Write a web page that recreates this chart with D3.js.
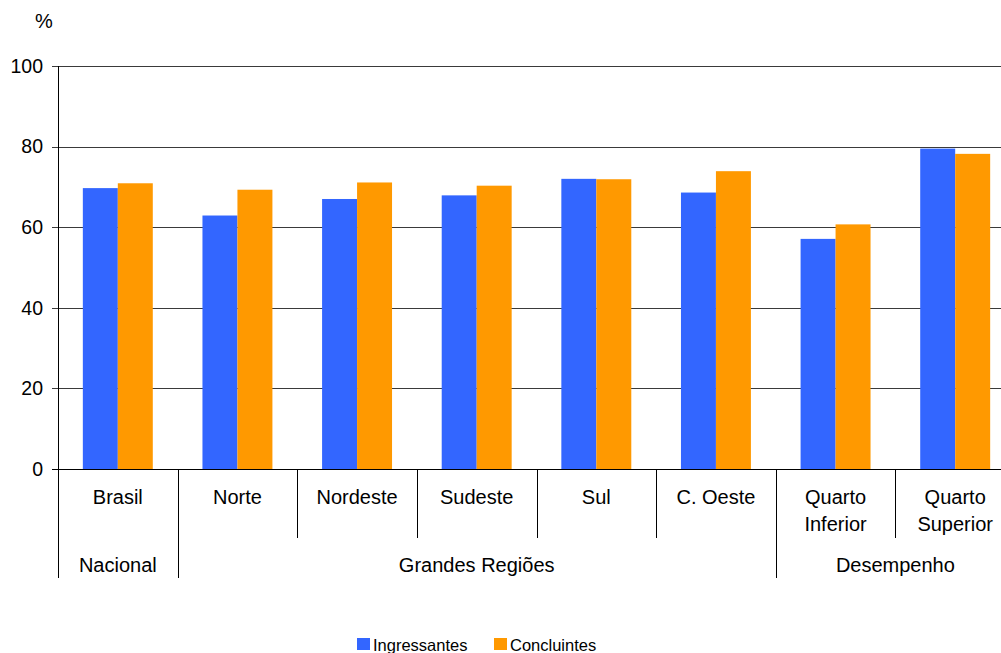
<!DOCTYPE html>
<html>
<head>
<meta charset="utf-8">
<script src="https://cdn.jsdelivr.net/npm/d3@7"></script>
<style>
  html, body { margin: 0; padding: 0; background: #fff; overflow: hidden; }
  svg { display: block; font-family: Arial, "Liberation Sans", sans-serif; }
</style>
</head>
<body>
<svg id="chart" width="1001" height="653"></svg>
<script>
// Category labels (lines split on "\n")
const categories = ["Brasil", "Norte", "Nordeste", "Sudeste", "Sul", "C. Oeste", "Quarto\nInferior", "Quarto\nSuperior"];
// Higher-level grouping: label, first and last category index
const groupNames = ["Nacional", "Grandes Regiões", "Desempenho"];
const groupStart = [0, 1, 6];
const groupEnd = [0, 5, 7];
// Series
const seriesNames = ["Ingressantes", "Concluintes"];
const seriesColors = ["#3366FF", "#FF9900"];
const ingressantes = [69.7, 62.9, 67.0, 67.9, 72.0, 68.6, 57.1, 79.5];
const concluintes = [70.9, 69.3, 71.1, 70.3, 71.9, 73.9, 60.7, 78.2];
const yTicks = [0, 20, 40, 60, 80, 100];

const svg = d3.select("#chart");
const plotLeft = 58, plotRight = 1015, plotTop = 66, plotBottom = 469;

const x0 = d3.scaleBand().domain(categories).range([plotLeft, plotRight]).padding(0);
const x1 = d3.scaleBand().domain(seriesNames).range([0, x0.bandwidth()])
  .paddingInner(0).paddingOuter(0.71);
const y = d3.scaleLinear().domain([0, 100]).range([plotBottom, plotTop]);

// Horizontal gridlines
svg.append("g")
  .selectAll("line")
  .data(yTicks)
  .join("line")
  .attr("x1", plotLeft - 6).attr("x2", plotRight)
  .attr("y1", d => Math.round(y(d)) + 0.5).attr("y2", d => Math.round(y(d)) + 0.5)
  .attr("stroke", "#3a3a3a").attr("stroke-width", 1);

// Y axis labels
const yAxis = d3.axisLeft(y).tickValues(yTicks).tickSize(0).tickPadding(0);
const yg = svg.append("g").attr("transform", `translate(${plotLeft - 15},0)`).call(yAxis);
yg.select(".domain").remove();
yg.selectAll("text")
  .attr("font-size", 19.5).attr("fill", "#000")
  .attr("font-family", "Arial, 'Liberation Sans', sans-serif");

svg.append("text").attr("x", 44).attr("y", 28)
  .attr("text-anchor", "middle").attr("font-size", 20).text("%");

// Bars
const rows = categories.map((c, i) => ({ cat: c, vals: [ingressantes[i], concluintes[i]] }));
const grp = svg.append("g").selectAll("g").data(rows).join("g")
  .attr("transform", d => `translate(${x0(d.cat)},0)`);
grp.selectAll("rect")
  .data(d => d.vals.map((v, k) => ({ s: seriesNames[k], v, k })))
  .join("rect")
  .attr("x", d => x1(d.s))
  .attr("width", x1.bandwidth())
  .attr("y", d => y(d.v))
  .attr("height", d => y(0) - y(d.v))
  .attr("fill", d => seriesColors[d.k]);

// Axis lines
svg.append("line").attr("x1", plotLeft + 0.5).attr("x2", plotLeft + 0.5)
  .attr("y1", plotTop).attr("y2", 578).attr("stroke", "#000");
svg.append("line").attr("x1", plotLeft - 6).attr("x2", plotRight)
  .attr("y1", Math.round(y(0)) + 0.5).attr("y2", Math.round(y(0)) + 0.5).attr("stroke", "#000");

// Category separators: long at group boundaries, short inside groups
const boundaries = d3.range(1, categories.length + 1);
svg.append("g").selectAll("line").data(boundaries).join("line")
  .attr("x1", i => Math.round(plotLeft + i * x0.step()) + 0.5)
  .attr("x2", i => Math.round(plotLeft + i * x0.step()) + 0.5)
  .attr("y1", y(0))
  .attr("y2", i => (groupStart.includes(i) || i === categories.length) ? 578 : 538)
  .attr("stroke", "#000");

// Category labels
svg.append("g").selectAll("text").data(categories).join("text")
  .attr("x", d => x0(d) + x0.bandwidth() / 2)
  .attr("y", 504)
  .attr("text-anchor", "middle")
  .attr("font-size", 20)
  .each(function (d) {
    const lines = d.split("\n");
    d3.select(this).selectAll("tspan").data(lines).join("tspan")
      .attr("x", x0(d) + x0.bandwidth() / 2)
      .attr("dy", (l, j) => j === 0 ? 0 : 26.5)
      .text(l => l);
  });

// Group labels
svg.append("g").selectAll("text").data(groupNames).join("text")
  .attr("x", (g, i) => (x0(categories[groupStart[i]]) + x0(categories[groupEnd[i]]) + x0.bandwidth()) / 2)
  .attr("y", 572)
  .attr("text-anchor", "middle")
  .attr("font-size", 20)
  .text(g => g);

// Legend
const legendX = [357, 494];
const leg = svg.append("g").selectAll("g").data(seriesNames).join("g")
  .attr("transform", (d, i) => `translate(${legendX[i]},638)`);
leg.append("rect").attr("width", 13).attr("height", 12).attr("fill", (d, i) => seriesColors[i]);
leg.append("text").attr("x", 16).attr("y", 12.5).attr("font-size", 16.5).text(d => d);
</script>
</body>
</html>
